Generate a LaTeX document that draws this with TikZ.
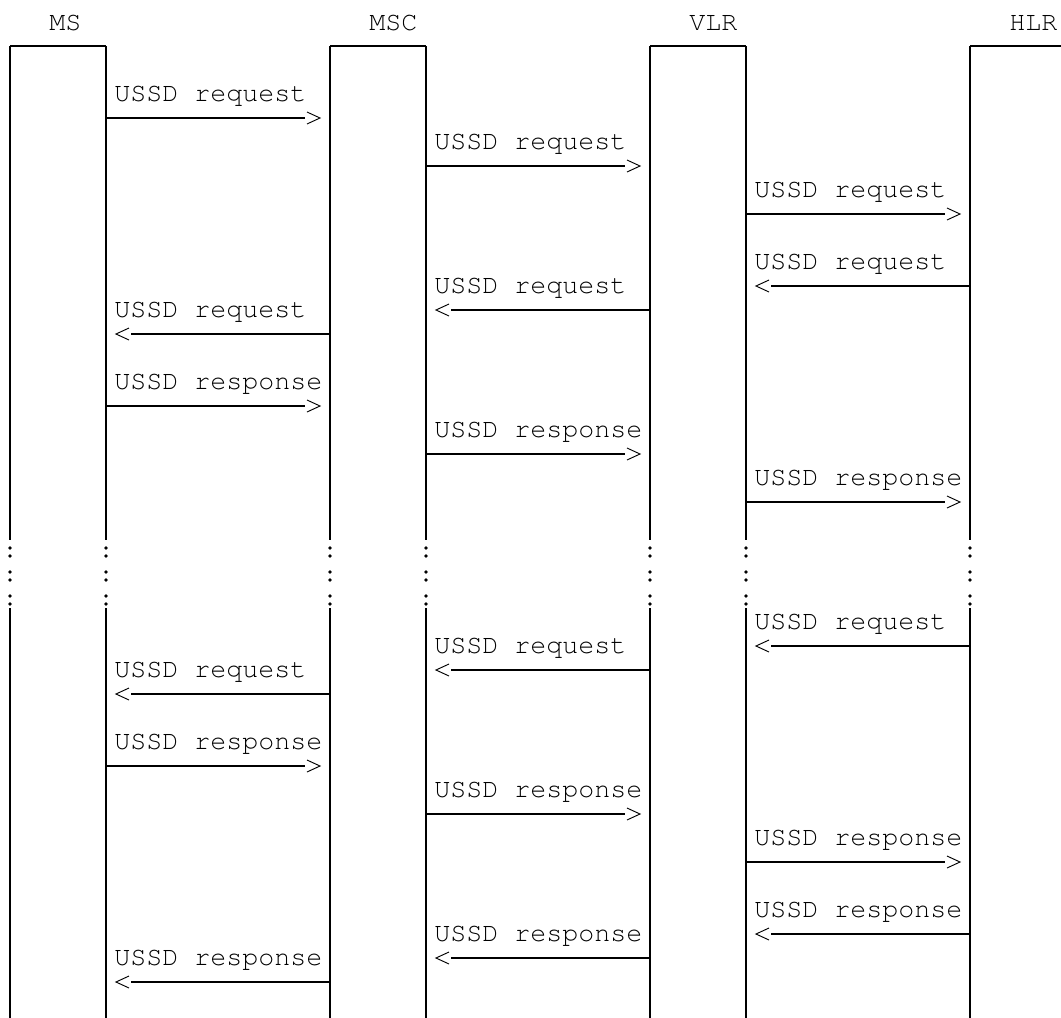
\documentclass[tikz,border=0pt]{standalone}
\usepackage[T1]{fontenc}
\usepackage{courier}
\usetikzlibrary{calc}
\begin{document}
\begin{tikzpicture}[x=0.75pt,y=-0.75pt,
  life/.style={line width=1pt,black},
  topbar/.style={line width=1.4pt,black},
  shaft/.style={line width=1.5pt,black},
  chev/.style={line width=0.7pt,black,line join=miter},
  origin/.style={line width=1.5pt,black},
  lbl/.style={inner sep=0pt,anchor=base west,font=\ttfamily\fontsize{20}{24}\selectfont,text=black},
  hdr/.style={inner sep=0pt,anchor=base west,font=\ttfamily\fontsize{20}{24}\selectfont,text=black},
  dot/.style={fill=black,draw=none}]
\useasboundingbox (0,0) rectangle (1061,1018);
% headers
\node[hdr] (hMS)  at (49,30)   {MS};
\node[hdr] (hMSC) at (369,30)  {MSC};
\node[hdr] (hVLR) at (689,30)  {VLR};
\node[hdr] (hHLR) at (1009,30) {HLR};
% lifeline coordinates
\foreach \n/\x in {msA/10,msB/106,mscA/330,mscB/426,vlrA/650,vlrB/746,hlrA/970}{
  \coordinate (\n-top) at (\x,46);
  \coordinate (\n-brk) at (\x,540);
  \coordinate (\n-res) at (\x,608);
  \coordinate (\n-bot) at (\x,1018);
  \draw[life] (\n-top) -- (\n-brk);
  \draw[life] (\n-res) -- (\n-bot);
  \foreach \d in {548,556,572,580,596,604}{
    \fill[dot] (\x,\d) circle (1.8);
  }
}
\coordinate (hlr-edge) at (1061,46);
% box tops
\draw[topbar] (msA-top) -- (msB-top);
\draw[topbar] (mscA-top) -- (mscB-top);
\draw[topbar] (vlrA-top) -- (vlrB-top);
\draw[topbar] (hlrA-top) -- (hlr-edge);
% messages: arrow y / source x / direction / word
\foreach \y/\s/\d/\t in {
  118/106/1/request, 166/426/1/request, 214/746/1/request,
  286/970/-1/request, 310/650/-1/request, 334/330/-1/request,
  406/106/1/response, 454/426/1/response, 502/746/1/response,
  646/970/-1/request, 670/650/-1/request, 694/330/-1/request,
  766/106/1/response, 814/426/1/response, 862/746/1/response,
  934/970/-1/response, 958/650/-1/response, 982/330/-1/response}{
  \coordinate (a\y) at (\s,\y);
  \coordinate (b\y) at ({\s+\d*199},\y);
  \coordinate (c\y) at ({\s+\d*214},\y);
  \draw[origin] (\s,\y-9) -- (\s,\y+11);
  \draw[shaft] (a\y) -- (b\y);
  \draw[chev] ([shift={({-\d*13},-6)}]c\y) -- (c\y) -- ([shift={({-\d*13},6)}]c\y);
  \node[lbl] (t\y) at ({\s+8-(1-\d)*112},\y-17) {USSD \t};
}
\end{tikzpicture}
\end{document}
